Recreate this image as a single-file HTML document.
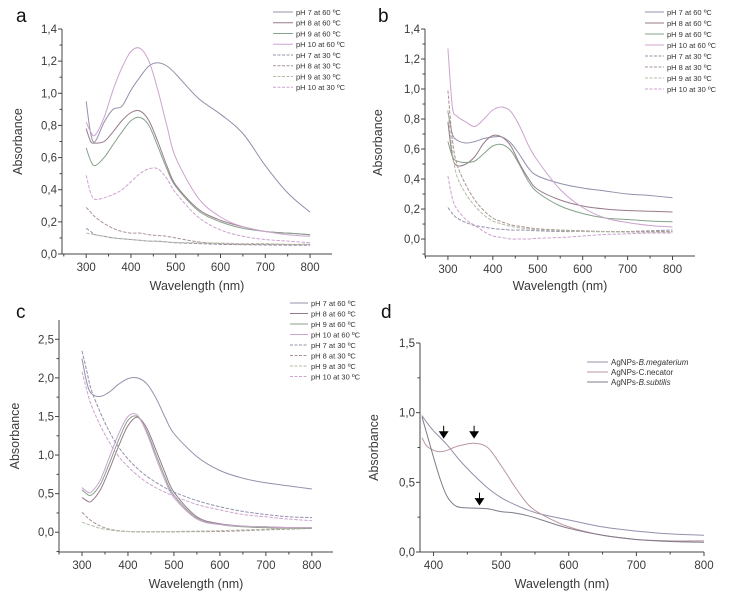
<!DOCTYPE html>
<html><head><meta charset="utf-8"><style>
html,body{margin:0;padding:0;background:#fff;}
svg{display:block;font-family:"Liberation Sans",sans-serif;}
</style></head><body>
<svg id="fig" width="729" height="598" viewBox="0 0 729 598" xmlns="http://www.w3.org/2000/svg"></svg>
<script>
// ---------- DATA ----------
const wlABC = [300,310,320,340,360,380,400,420,440,460,480,500,550,600,650,700,750,800];
const wlD = [383,390,400,410,420,430,440,460,480,500,520,540,560,600,650,700,750,800];
const legendABC = ["pH 7 at 60 \u00BAC","pH 8 at 60 \u00BAC","pH 9 at 60 \u00BAC","pH 10 at 60 \u00BAC","pH 7 at 30 \u00BAC","pH 8 at 30 \u00BAC","pH 9 at 30 \u00BAC","pH 10 at 30 \u00BAC"];
const xTicksABC = [300,400,500,600,700,800];
const xTicksD = [400,500,600,700,800];
const yTicksAB = ["0,0","0,2","0,4","0,6","0,8","1,0","1,2","1,4"];
const yTicksC = ["0,0","0,5","1,0","1,5","2,0","2,5"];
const yTicksD = ["0,0","0,5","1,0","1,5"];

const a_pH7_60 = [0.95,0.75,0.70,0.82,0.90,0.92,1.02,1.10,1.17,1.19,1.17,1.12,0.97,0.87,0.75,0.55,0.38,0.26];
const a_pH8_60 = [0.78,0.70,0.69,0.70,0.76,0.83,0.88,0.89,0.83,0.70,0.55,0.43,0.28,0.21,0.17,0.14,0.13,0.12];
const a_pH9_60 = [0.66,0.58,0.55,0.60,0.68,0.76,0.83,0.85,0.80,0.67,0.53,0.42,0.27,0.20,0.16,0.14,0.13,0.12];
const a_pH10_60 = [0.82,0.76,0.74,0.85,1.02,1.16,1.26,1.28,1.20,1.02,0.80,0.60,0.35,0.23,0.17,0.14,0.12,0.11];
const a_pH7_30 = [0.16,0.14,0.12,0.11,0.10,0.095,0.09,0.085,0.08,0.08,0.075,0.07,0.065,0.06,0.058,0.056,0.055,0.055];
const a_pH8_30 = [0.29,0.26,0.23,0.19,0.16,0.14,0.13,0.13,0.12,0.115,0.11,0.10,0.075,0.065,0.06,0.06,0.06,0.06];
const a_pH9_30 = [0.13,0.125,0.12,0.11,0.10,0.095,0.09,0.085,0.08,0.078,0.075,0.072,0.07,0.068,0.065,0.065,0.06,0.06];
const a_pH10_30 = [0.49,0.38,0.34,0.35,0.37,0.40,0.45,0.50,0.53,0.53,0.47,0.38,0.23,0.15,0.11,0.09,0.08,0.07];

const b_pH7_60 = [0.85,0.70,0.66,0.64,0.65,0.67,0.68,0.68,0.64,0.56,0.47,0.42,0.37,0.34,0.32,0.30,0.29,0.275];
const b_pH8_60 = [0.78,0.55,0.49,0.50,0.55,0.64,0.69,0.68,0.62,0.50,0.40,0.33,0.26,0.22,0.20,0.19,0.185,0.18];
const b_pH9_60 = [0.65,0.55,0.52,0.51,0.52,0.57,0.62,0.63,0.59,0.49,0.38,0.31,0.22,0.17,0.14,0.13,0.12,0.115];
const b_pH10_60 = [1.27,0.88,0.82,0.78,0.75,0.80,0.86,0.88,0.85,0.75,0.62,0.52,0.33,0.21,0.14,0.11,0.09,0.08];
const b_pH7_30 = [0.21,0.17,0.14,0.11,0.09,0.08,0.07,0.065,0.06,0.06,0.058,0.055,0.05,0.05,0.05,0.05,0.055,0.06];
const b_pH8_30 = [0.99,0.66,0.50,0.36,0.26,0.19,0.14,0.115,0.095,0.085,0.075,0.068,0.06,0.055,0.05,0.05,0.05,0.05];
const b_pH9_30 = [0.86,0.58,0.42,0.30,0.22,0.16,0.12,0.10,0.085,0.075,0.068,0.062,0.055,0.05,0.048,0.046,0.045,0.045];
const b_pH10_30 = [0.42,0.27,0.20,0.13,0.09,0.05,0.02,0.01,0.0,0.0,0.0,0.005,0.01,0.02,0.03,0.035,0.04,0.04];

const c_pH7_60 = [2.25,1.95,1.80,1.76,1.82,1.92,1.99,2.00,1.93,1.75,1.50,1.28,0.98,0.80,0.70,0.64,0.60,0.56];
const c_pH8_60 = [0.45,0.41,0.40,0.55,0.82,1.12,1.38,1.49,1.36,1.08,0.78,0.52,0.20,0.11,0.08,0.07,0.06,0.06];
const c_pH9_60 = [0.55,0.50,0.48,0.62,0.90,1.20,1.45,1.50,1.32,1.02,0.72,0.48,0.18,0.10,0.07,0.06,0.05,0.05];
const c_pH10_60 = [0.58,0.53,0.52,0.68,0.98,1.28,1.50,1.52,1.30,0.98,0.68,0.45,0.17,0.10,0.08,0.07,0.06,0.06];
const c_pH7_30 = [2.35,2.10,1.85,1.55,1.30,1.10,0.95,0.83,0.73,0.65,0.58,0.52,0.41,0.33,0.27,0.23,0.20,0.19];
const c_pH8_30 = [0.26,0.20,0.15,0.08,0.04,0.02,0.01,0.005,0.005,0.005,0.005,0.005,0.008,0.01,0.02,0.03,0.04,0.05];
const c_pH9_30 = [0.13,0.11,0.09,0.05,0.03,0.015,0.01,0.008,0.008,0.008,0.01,0.01,0.015,0.02,0.03,0.04,0.05,0.06];
const c_pH10_30 = [2.08,1.85,1.65,1.38,1.16,0.98,0.85,0.74,0.65,0.58,0.52,0.47,0.36,0.29,0.23,0.20,0.17,0.15];

const d_megaterium = [0.98,0.93,0.87,0.82,0.77,0.71,0.65,0.55,0.46,0.39,0.34,0.30,0.27,0.23,0.18,0.15,0.13,0.12];
const d_necator = [0.82,0.76,0.73,0.72,0.73,0.75,0.765,0.78,0.75,0.62,0.47,0.34,0.27,0.18,0.12,0.09,0.08,0.08];
const d_subtilis = [0.97,0.85,0.68,0.52,0.40,0.34,0.32,0.315,0.31,0.29,0.28,0.26,0.23,0.17,0.12,0.09,0.075,0.07];
const d_arrowX = [415,460,468];
const d_arrowY = [0.82,0.82,0.34];

// ---------- RENDER ----------
const NS="http://www.w3.org/2000/svg";
const svg=document.getElementById('fig');
function mk(tag,attrs,parent){const e=document.createElementNS(NS,tag);for(const k in attrs)e.setAttribute(k,attrs[k]);(parent||svg).appendChild(e);return e;}
function pathD(xs,ys){
  const p=xs.map((x,i)=>[x,ys[i]]);let d="M"+p[0][0].toFixed(1)+","+p[0][1].toFixed(1);
  for(let i=0;i<p.length-1;i++){const p0=p[i-1]||p[i],p1=p[i],p2=p[i+1],p3=p[i+2]||p2;
    const c1=[p1[0]+(p2[0]-p0[0])/6,p1[1]+(p2[1]-p0[1])/6],c2=[p2[0]-(p3[0]-p1[0])/6,p2[1]-(p3[1]-p1[1])/6];
    d+=" C"+c1[0].toFixed(1)+","+c1[1].toFixed(1)+" "+c2[0].toFixed(1)+","+c2[1].toFixed(1)+" "+p2[0].toFixed(1)+","+p2[1].toFixed(1);}
  return d;}

function panel(cfg){
  const g=mk('g',{});
  
  
  const xs=v=>cfg.px0+(v-cfg.xmin)/(cfg.xmax-cfg.xmin)*(cfg.px1-cfg.px0);
  const ys=v=>cfg.py0-(v-cfg.ymin)/(cfg.ymax-cfg.ymin)*(cfg.py0-cfg.py1);
  const ax=mk('path',{d:`M${cfg.px0},${cfg.py1} V${cfg.py0} H${cfg.px1}`,stroke:'#444',fill:'none','stroke-width':1},g);
  
  
  cfg.xTicks.forEach(t=>{
    mk('line',{x1:xs(t),x2:xs(t),y1:cfg.py0,y2:cfg.py0+4,stroke:'#444'},g);
    const tx=mk('text',{x:xs(t),y:cfg.py0+17,'text-anchor':'middle','font-size':11.5,fill:'#3a3a3a'},g);tx.textContent=t;
    
    
    const m=t+cfg.xMinor; if(m<cfg.xmax) mk('line',{x1:xs(m),x2:xs(m),y1:cfg.py0,y2:cfg.py0+2.5,stroke:'#444'},g);
  });
  if(cfg.xLowMinor!==undefined) mk('line',{x1:xs(cfg.xLowMinor),x2:xs(cfg.xLowMinor),y1:cfg.py0,y2:cfg.py0+2.5,stroke:'#444'},g);
  cfg.yTicks.forEach((lab,i)=>{const v=i*cfg.yStep;
    mk('line',{x1:cfg.px0-4,x2:cfg.px0,y1:ys(v),y2:ys(v),stroke:'#444'},g);
    const ty=mk('text',{x:cfg.px0-5,y:ys(v)+4,'text-anchor':'end','font-size':11.5,fill:'#3a3a3a'},g);ty.textContent=lab;
    
    
    const m=v+cfg.yStep/2; if(m<cfg.ymax) mk('line',{x1:cfg.px0-2.5,x2:cfg.px0,y1:ys(m),y2:ys(m),stroke:'#444'},g);
    const m2=v-cfg.yStep/2; if(i===0&&m2>cfg.ymin) mk('line',{x1:cfg.px0-2.5,x2:cfg.px0,y1:ys(m2),y2:ys(m2),stroke:'#444'},g);
  });
  const xt=mk('text',{x:(cfg.px0+cfg.px1)/2,y:cfg.titleY,'text-anchor':'middle','font-size':12.5,fill:'#3a3a3a'},g);xt.textContent='Wavelength (nm)';
  
  
  const yt=mk('text',{x:0,y:0,transform:`translate(${cfg.yTitleX},${(cfg.py0+cfg.py1)/2}) rotate(-90)`,'text-anchor':'middle','font-size':12.5,fill:'#3a3a3a'},g);yt.textContent='Absorbance';
  
  
  const lt=mk('text',{x:cfg.letterX,y:cfg.letterY,'font-size':19,fill:'#111'},g);lt.textContent=cfg.id;
  
  
  cfg.series.forEach((s,i)=>{
    const p=mk('path',{d:pathD(cfg.wl.map(xs),s.v.map(ys)),fill:'none',stroke:s.c,'stroke-width':1,'stroke-dasharray':s.dash?'3.5,1.5':'none'},g);
    
    
    const ly=cfg.legY+i*cfg.legStep;
    mk('line',{x1:cfg.legX,x2:cfg.legX+cfg.legLen,y1:ly,y2:ly,stroke:s.c,'stroke-width':1,'stroke-dasharray':s.dash?'3,1.5':'none'},g);
    const lx=mk('text',{x:cfg.legX+cfg.legLen+3,y:ly+2.8,'font-size':cfg.legFont,fill:'#333'},g);
    if(s.html){lx.innerHTML=s.html;}else lx.textContent=s.n;
    
    
  });
  return {g,xs,ys};
}
const col=['#9390ab','#967a8b','#86a38a','#cda3cf','#9390ab','#ab9393','#b3bca6','#cda3cf'];
function mkSeries(arrs){return arrs.map((v,i)=>({v,n:legendABC[i],c:col[i],dash:i>=4}));}

panel({id:'a',xmin:246,xmax:849,px0:62,px1:332,ymin:0,ymax:1.4,py0:254,py1:29,xTicks:xTicksABC,xMinor:50,xLowMinor:250,yTicks:yTicksAB,yStep:0.2,
  titleY:290,yTitleX:22,letterX:16,letterY:22,wl:wlABC,legX:273,legY:12,legStep:10.75,legLen:20,legFont:7.5,
  series:mkSeries([a_pH7_60,a_pH8_60,a_pH9_60,a_pH10_60,a_pH7_30,a_pH8_30,a_pH9_30,a_pH10_30])});
panel({id:'b',xmin:249,xmax:850,px0:425,px1:695,ymin:-0.113,ymax:1.4,py0:256,py1:29,xTicks:xTicksABC,xMinor:50,xLowMinor:250,yTicks:yTicksAB,yStep:0.2,
  titleY:290,yTitleX:382,letterX:378,letterY:22,wl:wlABC,legX:645,legY:12,legStep:11,legLen:19,legFont:7.5,
  series:mkSeries([b_pH7_60,b_pH8_60,b_pH9_60,b_pH10_60,b_pH7_30,b_pH8_30,b_pH9_30,b_pH10_30])});
panel({id:'c',xmin:250,xmax:846,px0:59,px1:333,ymin:-0.256,ymax:2.75,py0:552,py1:320,xTicks:xTicksABC,xMinor:50,xLowMinor:250,yTicks:yTicksC,yStep:0.5,
  titleY:588,yTitleX:19,letterX:16,letterY:318,wl:wlABC,legX:290,legY:303,legStep:10.5,legLen:18,legFont:7.5,
  series:mkSeries([c_pH7_60,c_pH8_60,c_pH9_60,c_pH10_60,c_pH7_30,c_pH8_30,c_pH9_30,c_pH10_30])});
const pd=panel({id:'d',xmin:380,xmax:800,px0:420,px1:704,ymin:0,ymax:1.5,py0:552,py1:343,xTicks:xTicksD,xMinor:50,yTicks:yTicksD,yStep:0.5,
  titleY:588,yTitleX:378,letterX:381,letterY:318,wl:wlD,legX:587,legY:362,legStep:10,legLen:21,legFont:8,
  series:[{v:d_megaterium,n:'AgNPs-B.megaterium',c:'#9390ab',html:'AgNPs-<tspan font-style="italic">B.megaterium</tspan>'},
          {v:d_necator,n:'AgNPs-C.necator',c:'#bb95a0'},
          {v:d_subtilis,n:'AgNPs-B.subtilis',c:'#807a8a',html:'AgNPs-<tspan font-style="italic">B.subtilis</tspan>'}]});
d_arrowX.forEach((x,i)=>{const X=pd.xs(x),Y=pd.ys(d_arrowY[i]);
  const a=mk('path',{d:`M${X},${Y-12} V${Y-5} M${X-4},${Y-6} L${X+4},${Y-6} L${X},${Y} Z`,stroke:'#000','stroke-width':1,fill:'#000'},pd.g);
  
  
});
</script>
</body></html>
